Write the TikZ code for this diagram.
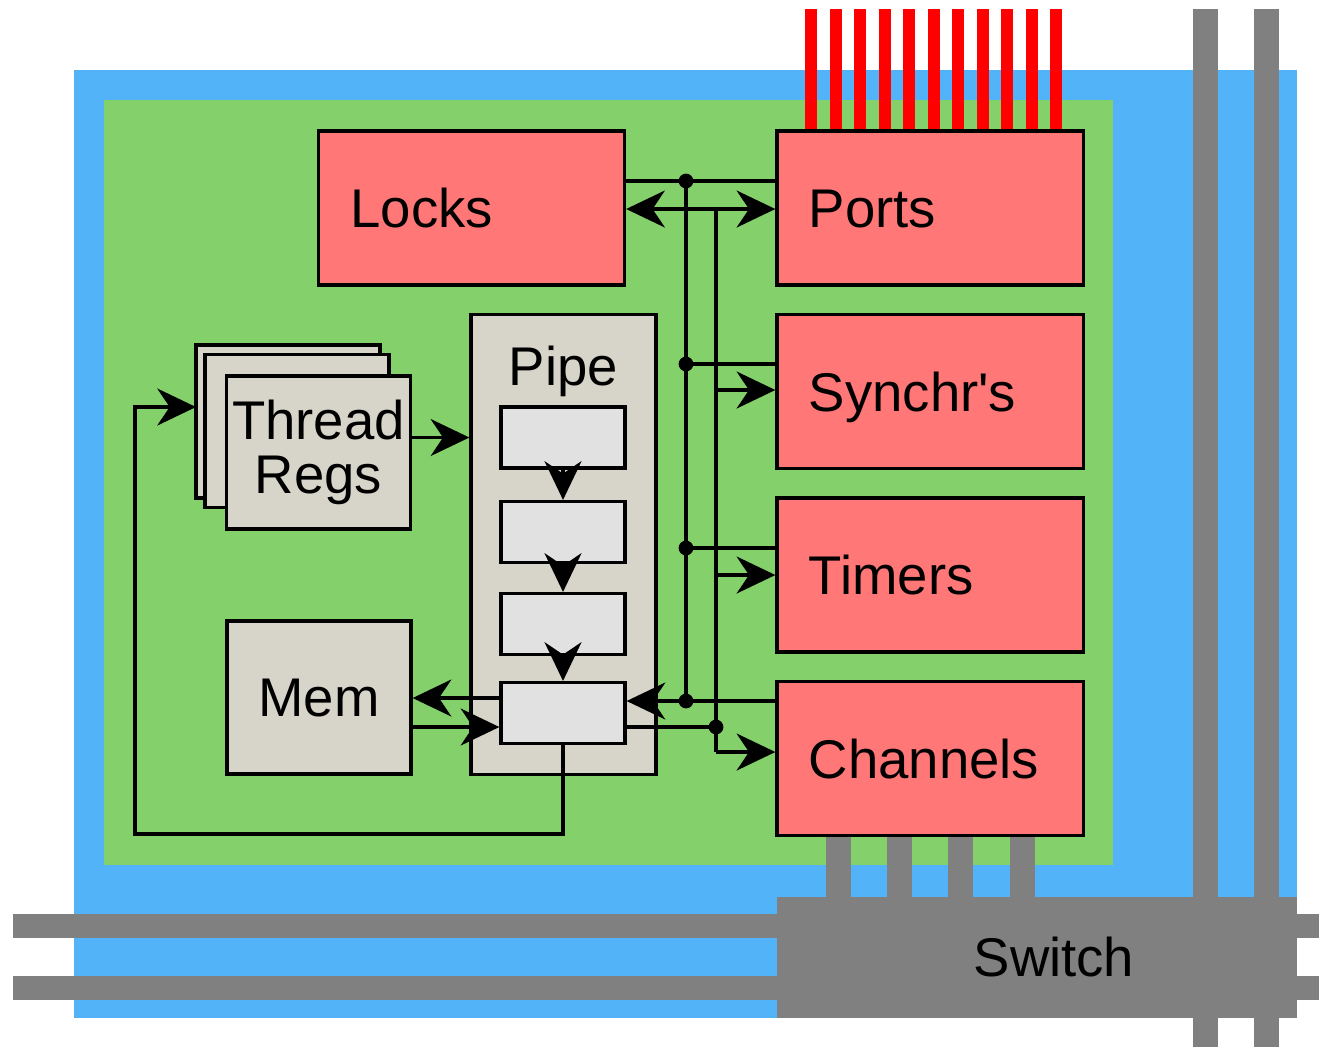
\documentclass[tikz,border=0pt]{standalone}
\usepackage{fontspec}
\setmainfont{Liberation Sans}
\usetikzlibrary{arrows.meta,positioning,calc}
\definecolor{chipblue}{HTML}{53B3F8}
\definecolor{tilegreen}{HTML}{84D06A}
\definecolor{unitred}{HTML}{FF7777}
\definecolor{pipegray}{HTML}{D7D5CA}
\definecolor{stagegray}{HTML}{E1E1E1}
\definecolor{netgray}{HTML}{808080}
\tikzset{
  >={Stealth[length=11pt,width=10.5pt,inset=3.5pt]},
  unit/.style={draw,fill=unitred,line width=0.9pt,minimum width=3.06cm,
    minimum height=1.54cm,inner xsep=0.32cm,text width=2.42cm,align=left,
    text height=11.2pt,text depth=0pt},
  regbox/.style={draw,fill=pipegray,line width=0.9pt,minimum width=1.84cm,
    minimum height=1.53cm,inner sep=0pt,align=center},
  stagebox/.style={draw,fill=stagegray,line width=0.9pt,minimum width=1.24cm,
    minimum height=0.61cm},
  bus/.style={line width=0.9pt},
  arr/.style={bus,->},
  dot/.style={circle,fill=black,inner sep=0pt,minimum size=4.2pt}
}
\begin{document}
\begin{tikzpicture}[x=0.01cm,y=-0.01cm,font=\fontsize{15.5}{15.5}\selectfont]
\useasboundingbox (0,0) rectangle (1319,1047);
% chip and tile
\fill[chipblue] (74,70) rectangle (1297,1018);
\fill[tilegreen] (104,100) rectangle (1113,865);
% network links
\fill[netgray] (13,914) rectangle (1319,938);
\fill[netgray] (13,976) rectangle (1319,1000);
\fill[netgray] (1193,9) rectangle (1218,1047);
\fill[netgray] (1254,9) rectangle (1279,1047);
\foreach \x in {826,887,948,1010}
  \fill[netgray] (\x,830) rectangle +(25,70);
\node[fill=netgray,minimum width=5.2cm,minimum height=1.21cm] (switch) at (1037,957.5) {};
\node at (1054,957) {Switch};
% pins
\foreach \i in {0,...,10}
  \fill[red] ({805+24.5*\i},9) rectangle +(12,125);

% resources
\node[unit] (locks) at (471.5,208) {Locks};
\node[unit] (ports) at (930,208) {Ports};
\node[unit] (synch) at (930,391.5) {Synchr\textquotesingle s};
\node[unit] (timers) at (930,575) {Timers};
\node[unit] (chan) at (930,758.5) {Channels};

% pipeline
\node[regbox,minimum width=1.85cm,minimum height=4.59cm] (pipe) at (563.5,544.5) {};
\node[below=0.2cm of pipe.north] {Pipe};
\node[stagebox] (s1) at (563,437.5) {};
\node[stagebox] (s2) at (563,532) {};
\node[stagebox] (s3) at (563,624) {};
\node[stagebox] (s4) at (563,713) {};
\draw[arr] (s1.south) -- (s2.north);
\draw[arr] (s2.south) -- (s3.north);
\draw[arr] (s3.south) -- (s4.north);

% thread registers and memory
\node[regbox] (regs3) at (288,421.5) {};
\node[regbox] (regs2) at (297,431) {};
\node[regbox] (regs1) at (318.5,452.5) {Thread\\Regs};
\node[regbox] (mem) at (319,697.5) {Mem};
\draw[arr] (regs1.east |- s1) -- (pipe.west |- s1);

% bus
\coordinate (a1) at (686,181);
\coordinate (a2) at (686,364);
\coordinate (a3) at (686,548);
\coordinate (a4) at (686,701);
\coordinate (b0) at (716,209);
\coordinate (b1) at (716,390);
\coordinate (b2) at (716,575);
\coordinate (b3) at (716,727);
\coordinate (b4) at (716,752);
\coordinate (fb) at (135,834);
\coordinate (fbin) at (196,407);
\draw[bus] (a1) -- (a4);
\draw[bus] (b0) -- (b4);
\draw[bus] (locks.east |- a1) -- (ports.west |- a1);
\draw[bus,<->] (locks.east |- b0) -- (ports.west |- b0);
\draw[bus] (a2) -- (synch.west |- a2);
\draw[arr] (b1) -- (synch.west |- b1);
\draw[bus] (a3) -- (timers.west |- a3);
\draw[arr] (b2) -- (timers.west |- b2);
\draw[arr] (chan.west |- a4) -- (s4.east |- a4);
\draw[bus] (s4.east |- b3) -- (b3);
\draw[arr] (b4) -- (chan.west |- b4);
\foreach \p in {a1,a2,a3,a4,b3}
  \node[dot] at (\p) {};

% memory access and write back
\draw[arr] ($(s4.west)+(0,-15)$) -- ($(mem.east |- s4.west)+(0,-15)$);
\draw[arr] (mem.east |- b3) -- (s4.west |- b3);
\draw[arr] (s4.south) |- (fb) |- (fbin);
\end{tikzpicture}
\end{document}
